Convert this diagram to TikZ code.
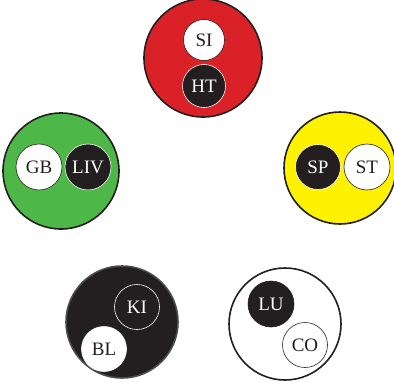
\documentclass[tikz,border=0pt]{standalone}
\usepackage{fontspec}
\setmainfont{Liberation Serif}
\definecolor{cred}{HTML}{DA2128}
\definecolor{cgreen}{HTML}{4DB848}
\definecolor{cyellow}{HTML}{FFF200}
\definecolor{cblack}{HTML}{231F20}
\begin{document}
\begin{tikzpicture}[x=1pt,y=-1pt,
  outer/.style={circle,draw=cblack,line width=1.6pt,minimum size=#1,inner sep=0pt},
  wb/.style={circle,fill=white,draw=cblack,line width=0.6pt,minimum size=#1,inner sep=0pt,text=cblack,font=\fontsize{19}{21}\selectfont},
  bw/.style={circle,fill=cblack,draw=white,line width=0.6pt,minimum size=#1,inner sep=0pt,text=white,font=\fontsize{19}{21}\selectfont}]
\useasboundingbox (0,0) rectangle (394,383);
% red
\node[outer=118pt,fill=cred] (red) at (203,58) {};
\node[wb=41pt] (si) at (204,40) {SI};
\node[bw=43pt] (ht) at (204,86) {HT};
% green
\node[outer=116pt,fill=cgreen] (green) at (61,171) {};
\node[wb=46pt] (gb) at (39,167) {GB};
\node[bw=46pt] (liv) at (88,167) {LIV};
% yellow
\node[outer=112pt,fill=cyellow] (yellow) at (340,168) {};
\node[bw=45pt] (sp) at (318,167) {SP};
\node[wb=46pt] (st) at (367,167) {ST};
% black
\node[outer=112pt,fill=cblack,draw=gray!60!black] (blk) at (122,322) {};
\node[bw=45pt] (ki) at (137,307) {KI};
\node[wb=45pt,draw=white] (bl) at (104,349) {BL};
% white
\node[outer=112pt,fill=white] (wht) at (285,324) {};
\node[bw=46pt,draw=cblack] (lu) at (271,304) {LU};
\node[wb=45pt] (co) at (305,345) {CO};
\end{tikzpicture}
\end{document}
